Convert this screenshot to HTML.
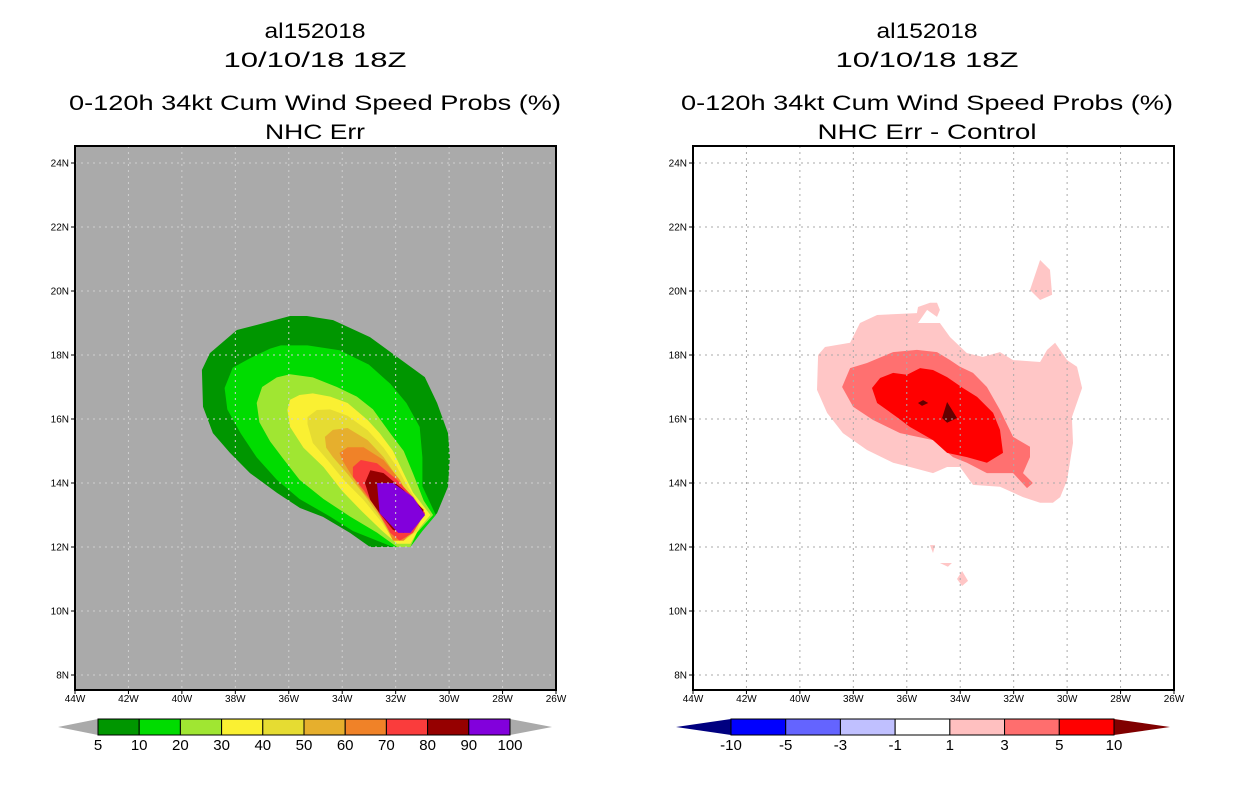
<!DOCTYPE html>
<html><head><meta charset="utf-8"><style>
html,body{margin:0;padding:0;background:#fff;}
svg{display:block;font-family:"Liberation Sans",sans-serif;}
</style></head><body>
<svg id="chart" width="1236" height="800" viewBox="0 0 1236 800" xmlns="http://www.w3.org/2000/svg">
<g font-size="21" text-anchor="middle" fill="#000">
<text x="315" y="38" textLength="101" lengthAdjust="spacingAndGlyphs">al152018</text>
<text x="315" y="67" textLength="183" lengthAdjust="spacingAndGlyphs">10/10/18 18Z</text>
<text x="315" y="110" textLength="492" lengthAdjust="spacingAndGlyphs">0-120h 34kt Cum Wind Speed Probs (%)</text>
<text x="315" y="139" textLength="100" lengthAdjust="spacingAndGlyphs">NHC Err</text></g>
<g font-size="21" text-anchor="middle" fill="#000">
<text x="927" y="38" textLength="101" lengthAdjust="spacingAndGlyphs">al152018</text>
<text x="927" y="67" textLength="183" lengthAdjust="spacingAndGlyphs">10/10/18 18Z</text>
<text x="927" y="110" textLength="492" lengthAdjust="spacingAndGlyphs">0-120h 34kt Cum Wind Speed Probs (%)</text>
<text x="927" y="139" textLength="219" lengthAdjust="spacingAndGlyphs">NHC Err - Control</text></g>
<g id="left"></g>
<g id="right"></g>
<g id="cbl"></g>
<g id="cbr"></g>
</svg>
<script>
const lonTicks=[44,42,40,38,36,34,32,30,28,26];
const latTicks=[24,22,20,18,16,14,12,10,8];
// left panel contours (lon W, lat N)
const probLevels=[5,10,20,30,40,50,60,70,80,90];
const probColors=["#009600","#00dc00","#a0e632","#faf032","#e6dc32","#e6af2d","#f08228","#fa3c3c","#960000","#8200dc"];
const prob5=[[39.25,17.53],[38.95,18.06],[37.94,18.78],[37.19,18.94],[35.95,19.22],[35.32,19.22],[34.34,19.09],[32.96,18.56],[31.95,17.94],[30.91,17.31],[30.45,16.5],[30.04,15.56],[29.97,14.81],[30.04,13.88],[30.45,13.06],[30.98,12.53],[31.57,12.0],[32.96,12.0],[33.71,12.44],[34.72,12.94],[35.58,13.22],[36.44,13.69],[37.45,14.31],[38.2,14.94],[38.84,15.56],[39.21,16.38]];
const prob10=[[38.4,16.97],[38.1,17.6],[37.45,17.9],[36.7,18.2],[36.3,18.3],[35.3,18.3],[34.1,18.15],[33.0,17.7],[32.2,17.1],[31.6,16.5],[31.1,15.75],[31.0,14.8],[31.0,13.9],[30.5,13.0],[31.0,12.5],[31.45,12.0],[32.1,12.0],[32.7,12.2],[33.6,12.5],[34.45,12.95],[35.6,13.5],[36.45,14.1],[37.2,14.8],[37.8,15.55],[38.3,16.3]];
const prob20=[[37.2,16.5],[37.0,17.0],[36.45,17.3],[35.95,17.4],[35.1,17.3],[34.2,17.0],[33.45,16.7],[32.85,16.3],[32.2,15.55],[31.7,15.0],[31.35,14.3],[30.95,13.45],[30.6,13.0],[31.2,12.45],[31.45,12.0],[31.95,12.0],[32.7,12.45],[33.7,12.95],[34.7,13.5],[35.6,14.1],[36.2,14.75],[36.7,15.3],[37.1,15.9]];
const prob30=[[36.05,16.28],[35.95,16.6],[35.6,16.75],[35.1,16.8],[34.45,16.7],[33.8,16.5],[33.05,15.97],[32.6,15.56],[32.1,15.0],[31.7,14.3],[31.35,13.7],[30.7,13.0],[31.1,12.6],[31.45,12.1],[31.95,12.1],[32.5,12.5],[33.25,13.1],[34.0,13.75],[34.7,14.5],[35.45,15.1],[35.95,15.75]];
const prob40=[[35.3,16.06],[34.95,16.28],[34.45,16.3],[33.8,16.1],[33.05,15.65],[32.45,15.1],[31.95,14.5],[31.55,13.88],[30.95,13.1],[31.2,12.5],[31.7,12.2],[32.05,12.2],[32.55,12.8],[33.2,13.47],[33.95,14.1],[34.55,14.72],[35.1,15.25],[35.3,15.84]];
const prob50=[[34.65,15.44],[34.35,15.66],[33.8,15.72],[33.05,15.34],[32.45,14.81],[31.95,14.19],[31.55,13.56],[30.95,13.06],[31.35,12.44],[31.7,12.2],[32.1,12.2],[32.55,12.9],[33.2,13.66],[33.8,14.28],[34.35,14.81],[34.6,15.1]];
const prob60=[[34.1,14.94],[33.8,15.12],[33.2,15.12],[32.45,14.72],[31.85,14.1],[31.45,13.47],[30.95,13.06],[31.35,12.53],[31.7,12.2],[32.1,12.2],[32.55,13.06],[33.2,13.69],[33.7,14.31],[34.0,14.72]];
const prob70=[[33.6,14.5],[33.3,14.72],[32.7,14.62],[31.95,14.1],[31.35,13.56],[30.9,13.06],[31.35,12.44],[31.85,12.2],[32.2,12.44],[32.7,13.16],[33.2,13.78],[33.6,14.19]];
const prob80=[[33.15,14.0],[32.95,14.4],[32.45,14.31],[31.7,13.78],[30.95,13.16],[31.1,12.84],[31.7,12.44],[32.1,12.53],[32.6,13.06],[32.95,13.47]];
const prob90=[[32.7,14.0],[32.1,14.0],[31.35,13.56],[30.9,13.0],[31.45,12.44],[31.9,12.44],[32.6,13.06]];
// right panel contours
const diffLabels=["-10","-5","-3","-1","1","3","5","10"];
const diffColors=["#0000ff","#6464ff","#c0c0ff","#ffffff","#ffc0c0","#ff6e6e","#ff0000"];
const diff1=[[39.32,18.0],[39.06,18.25],[38.12,18.38],[37.75,19.0],[37.11,19.25],[35.62,19.31],[35.58,19.5],[35.13,19.63],[34.87,19.63],[34.76,19.41],[34.87,19.19],[35.24,19.41],[35.58,19.0],[34.76,19.0],[34.38,18.56],[33.75,18.06],[33.15,17.94],[32.51,18.09],[32.02,17.84],[31.01,17.78],[30.75,18.16],[30.45,18.38],[30.0,17.84],[29.63,17.63],[29.44,16.97],[29.82,16.06],[29.78,15.25],[30.0,14.09],[30.26,13.56],[30.53,13.38],[31.01,13.38],[31.65,13.56],[32.51,13.88],[33.52,13.94],[34.01,14.5],[34.49,14.5],[35.02,14.31],[35.88,14.5],[36.51,14.63],[37.49,15.03],[38.39,15.56],[38.98,16.19],[39.36,16.91]];
const diff1b=[[31.39,20.03],[31.01,20.97],[30.64,20.66],[30.56,19.88],[31.01,19.72]];
const diff1c=[[35.13,12.06],[34.94,12.06],[35.02,11.81]];
const diff1d=[[34.76,11.5],[34.31,11.5],[34.46,11.38]];
const diff1e=[[34.12,11.0],[33.93,11.25],[33.71,10.94],[33.93,10.78]];
const diff3=[[38.42,17.0],[38.12,17.59],[37.49,17.75],[36.51,18.09],[35.62,18.16],[34.87,18.09],[34.38,17.84],[34.01,17.63],[33.52,17.44],[33.0,17.0],[32.51,16.28],[32.02,15.44],[31.39,15.13],[31.39,14.81],[31.65,14.31],[31.28,14.0],[31.5,13.84],[32.02,14.31],[33.0,14.31],[33.75,14.63],[34.27,14.81],[35.02,15.34],[36.25,15.56],[37.26,15.97],[38.01,16.38]];
const diff5=[[37.3,16.97],[37.0,17.28],[36.51,17.44],[35.99,17.38],[35.5,17.59],[35.02,17.53],[34.49,17.31],[33.9,16.97],[33.37,16.69],[32.77,16.19],[32.51,15.66],[32.4,14.94],[33.0,14.63],[33.75,14.81],[34.49,14.94],[35.02,15.34],[35.88,15.75],[36.37,16.06],[37.11,16.5]];
const diff10a=[[34.49,16.53],[34.12,16.03],[34.49,15.88],[34.68,16.03]];
const diff10b=[[35.58,16.5],[35.39,16.59],[35.2,16.5],[35.43,16.41]];

const NS="http://www.w3.org/2000/svg";
const PW=481,PT=146,PB=690;
function xS(lon,x0){return x0+(44-lon)/18*PW;}
function yS(lat){return 163+(24-lat)*32;}
function mk(tag,attrs,parent){const e=document.createElementNS(NS,tag);for(const k in attrs)e.setAttribute(k,attrs[k]);parent.appendChild(e);return e;}
function poly(pts,x0,fill,parent,name){
  const p=mk('polygon',{points:pts.map(q=>xS(q[0],x0).toFixed(1)+','+yS(q[1]).toFixed(1)).join(' '),fill:fill},parent);
  
  
}
function panel(g,x0,bg,grid,polys){
  const r=mk('rect',{x:x0,y:PT,width:PW,height:PB-PT,fill:bg},g);
  
  
  polys();
  const gg=mk('g',{stroke:grid,'stroke-width':1,'stroke-dasharray':'2,4'},g);
  
  
  lonTicks.forEach(l=>{const x=xS(l,x0);if(l<44&&l>26)mk('line',{x1:x,x2:x,y1:PT,y2:PB},gg);});
  latTicks.forEach(l=>{const y=yS(l);mk('line',{x1:x0,x2:x0+PW,y1:y,y2:y},gg);});
  const fr=mk('rect',{x:x0,y:PT,width:PW,height:PB-PT,fill:'none',stroke:'#000','stroke-width':2},g);
  
  
  lonTicks.forEach(l=>{const x=xS(l,x0);
    mk('line',{x1:x,x2:x,y1:PB,y2:PB+4,stroke:'#000'},g);
    const t=mk('text',{x:x,y:PB+12,'font-size':10,'text-anchor':'middle'},g);t.textContent=l+'W';
    
    });
  latTicks.forEach(l=>{const y=yS(l);
    mk('line',{x1:x0-4,x2:x0,y1:y,y2:y,stroke:'#000'},g);
    const t=mk('text',{x:x0-6,y:y+3.5,'font-size':10,'text-anchor':'end'},g);t.textContent=l+'N';
    
    });
}
const L=document.getElementById('left'),R=document.getElementById('right');
panel(L,75,'#aaaaaa','#d0d0d0',()=>{
  [prob5,prob10,prob20,prob30,prob40,prob50,prob60,prob70,prob80,prob90].forEach((p,i)=>poly(p,75,probColors[i],L,'contour-'+probLevels[i]));
});
panel(R,693,'#ffffff','#aaaaaa',()=>{
  [diff1,diff1b,diff1c,diff1d,diff1e].forEach(p=>poly(p,693,'#ffc6c6',R,'contour-1'));
  poly(diff3,693,'#ff7070',R,'contour-3');
  poly(diff5,693,'#ff0000',R,'contour-5');
  poly(diff10a,693,'#640000',R,'contour-10');
  poly(diff10b,693,'#640000',R,'contour-10');
});
function colorbar(g,x0,x1,tipL,tipR,cols,labels,lowCol,highCol){
  const y0=719,y1=735,n=cols.length,w=(x1-x0)/n;
  const a=mk('polygon',{points:`${tipL},${(y0+y1)/2} ${x0},${y0} ${x0},${y1}`,fill:lowCol},g);
  
  
  const b=mk('polygon',{points:`${tipR},${(y0+y1)/2} ${x1},${y0} ${x1},${y1}`,fill:highCol},g);
  
  
  cols.forEach((c,i)=>{const r=mk('rect',{x:x0+i*w,y:y0,width:w,height:y1-y0,fill:c,stroke:'#000','stroke-width':1},g);
    
    });
  labels.forEach((s,i)=>{const t=mk('text',{x:x0+i*w,y:y1+15,'font-size':15,'text-anchor':'middle'},g);t.textContent=s;
    
    });
}
colorbar(document.getElementById('cbl'),98,510,58,552,probColors,probLevels.concat([100]).map(String),'#aaaaaa','#aaaaaa');
colorbar(document.getElementById('cbr'),731,1114,676,1170,diffColors,diffLabels,'#000080','#800000');
</script>
</body></html>
